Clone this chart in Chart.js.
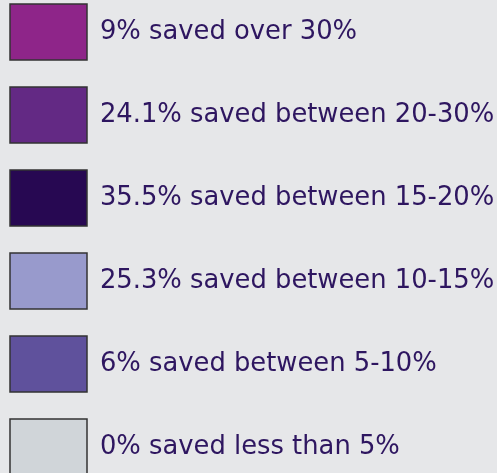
<!DOCTYPE html>
<html>
<head>
<meta charset="utf-8">
<script src="https://cdn.jsdelivr.net/npm/chart.js@4.4.0/dist/chart.umd.min.js"></script>
<style>
    html, body {
        margin: 0;
        padding: 0;
        background: #e6e7e9;
    }
    #wrap {
        width: 497px;
        height: 473px;
        position: relative;
    }
</style>
</head>
<body>
<div id="wrap"><canvas id="savingsChart"></canvas></div>
<script>
// Legend categories and shares
const categories = [
    "saved over 30%",
    "saved between 20-30%",
    "saved between 15-20%",
    "saved between 10-15%",
    "saved between 5-10%",
    "saved less than 5%",
];
const shares = [9, 24.1, 35.5, 25.3, 6, 0];
const colors = ["#8e2589", "#632984", "#270852", "#989acc", "#5f519c", "#d0d5d9"];

const labels = categories.map((c, i) => `${shares[i]}% ${c}`);

const ctx = document.getElementById("savingsChart");

new Chart(ctx, {
    type: "doughnut",
    data: {
        labels: labels,
        datasets: [
            {
                data: shares,
                backgroundColor: colors,
                borderWidth: 0,
            },
        ],
    },
    options: {
        responsive: true,
        maintainAspectRatio: false,
        animation: false,
        radius: 0,
        layout: {
            // pull the legend up/left so its padding becomes the row gap
            padding: { left: -17, top: -23, right: 0, bottom: 0 },
        },
        plugins: {
            tooltip: { enabled: false },
            legend: {
                position: "top",
                align: "start",
                maxHeight: 1000,
                labels: {
                    boxWidth: 77,
                    boxHeight: 56,
                    padding: 27,
                    color: "#2e1660",
                    font: { family: "DejaVu Sans", size: 25.8, weight: "normal" },
                    generateLabels(chart) {
                        const base = Chart.overrides.doughnut.plugins.legend.labels.generateLabels(chart);
                        return base.map((item) => ({
                            ...item,
                            lineWidth: 1.5,
                            strokeStyle: "#333333",
                        }));
                    },
                },
            },
        },
    },
});
</script>
</body>
</html>
